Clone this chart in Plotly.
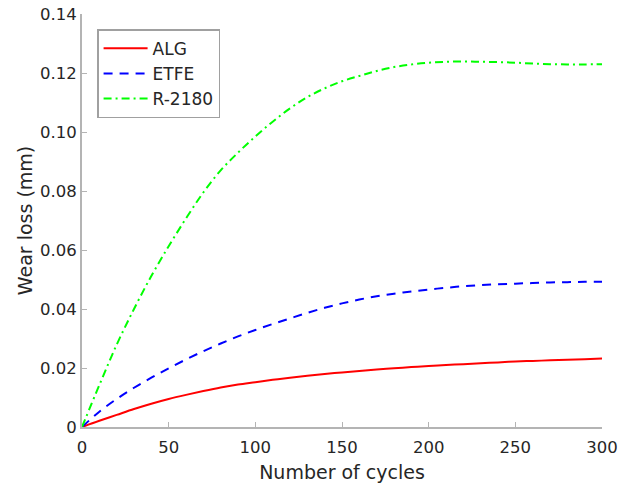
import plotly.graph_objects as go

cycles = list(range(0, 301, 10))
alg = [0, .0021, .0041, .0061, .0079, .0095, .0109, .0122, .0134, .0144, .0152, .0160, .0167, .0174, .0180,
       .0185, .0190, .0195, .0199, .0203, .0207, .0210, .0213, .0216, .0219, .0222, .0224, .0226, .0228,
       .0230, .0232]
etfe = [0, .0052, .0095, .0133, .0167, .0199, .0229, .0257, .0283, .0307, .0329, .0349, .0368, .0387, .0404,
        .0419, .0432, .0443, .0452, .0459, .0466, .0472, .0477, .0481, .0484, .0486, .0488, .0490, .0491,
        .0492, .0492]
r2180 = [0, .0142, .0279, .0400, .0512, .0613, .0707, .0795, .0870, .0930, .0985, .1035, .1080, .1118, .1148,
         .1172, .1190, .1207, .1220, .1229, .1235, .1238, .1239, .1238, .1237, .1235, .1232, .1230, .1229,
         .1229, .1230]

x_ticks = [0, 50, 100, 150, 200, 250, 300]
y_ticks = [0, 0.02, 0.04, 0.06, 0.08, 0.10, 0.12, 0.14]
y_text = ["0", "0.02", "0.04", "0.06", "0.08", "0.10", "0.12", "0.14"]

fig = go.Figure()
fig.add_trace(go.Scatter(x=cycles, y=alg, name="ALG", mode="lines",
                         line=dict(color="#ff0000", width=2, shape="spline", simplify=False)))
fig.add_trace(go.Scatter(x=cycles, y=etfe, name="ETFE", mode="lines",
                         line=dict(color="#0000ff", width=2, dash="9px,7px", shape="spline", simplify=False)))
fig.add_trace(go.Scatter(x=cycles, y=r2180, name="R-2180", mode="lines",
                         line=dict(color="#00ff00", width=2, dash="8px,4px,2px,4px", shape="spline",
                                   simplify=False)))

axis_common = dict(showgrid=False, zeroline=False, showline=True, linecolor="#b4b4b4", linewidth=2,
                   ticks="inside", ticklen=5, tickcolor="#b4b4b4", tickwidth=1, automargin=False,
                   tickfont=dict(family="DejaVu Sans", size=16.5, color="#262626"))

fig.update_layout(
    width=633, height=483,
    margin=dict(l=82, r=31, t=14, b=56),
    plot_bgcolor="white", paper_bgcolor="white",
    font=dict(family="DejaVu Sans", size=16, color="#262626"),
    xaxis=dict(range=[0, 300], tickvals=x_ticks, ticktext=[str(v) for v in x_ticks], ticklabelstandoff=4,
               title=dict(text="Number of cycles", font=dict(size=19), standoff=10), **axis_common),
    yaxis=dict(range=[0, 0.14], tickvals=y_ticks, ticktext=y_text,
               title=dict(text="Wear loss (mm)", font=dict(size=19), standoff=2), **axis_common),
    legend=dict(x=0.029, y=0.963, xanchor="left", yanchor="top", bgcolor="white",
                bordercolor="#a0a0a0", borderwidth=1.5, font=dict(size=17, color="#262626"),
                tracegroupgap=0, itemwidth=44),
    showlegend=True,
)

fig.write_html("out.html", config={"displayModeBar": False})

with open("out.html", "r", encoding="utf-8") as f:
    html = f.read()
html = html.replace("<body>", '<body style="margin:0;padding:0;overflow:hidden;">', 1)
with open("out.html", "w", encoding="utf-8") as f:
    f.write(html)
